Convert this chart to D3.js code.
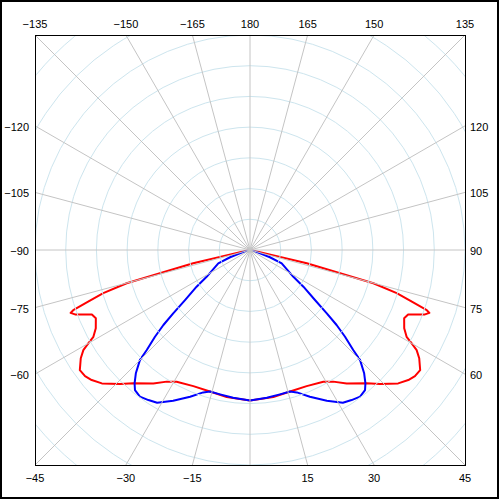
<!DOCTYPE html>
<html>
<head>
<meta charset="utf-8">
<script src="https://cdn.jsdelivr.net/npm/d3@7"></script>
<style>
  body { margin: 0; background: #fff; }
  text { font-family: "Liberation Sans", Arial, sans-serif; font-size: 11px; fill: #000; }
</style>
</head>
<body>
<div id="chart"></div>
<script>
// Gamma angles (deg from nadir) and intensities.
// The luminaire is symmetric, so each half plane uses the same table.
var redGamma = [0, 9.0, 15.8, 22.6, 29.1, 32.3, 35.9, 41.2, 44.1, 48.0, 50.6, 52.6, 54.8,
                57.4, 59.0, 60.0, 61.0, 63.1, 66.1, 67.8, 69.8, 70.7, 71.2, 72.2, 73.6,
                74.9, 75.5, 76.8, 77.6, 80, 85, 90];
var redValue = [490, 485, 479, 480, 491, 507, 537, 577, 608, 649, 667, 676, 678,
                654, 633, 608, 583, 563, 549, 556, 607, 619, 608, 558, 498,
                416, 303, 190, 40, 12, 4, 0];

var blueGamma = [0, 6.5, 11.7, 15.8, 18.2, 22.2, 27.0, 31.3, 34.1, 36.9, 39.4, 40.9,
                 42.8, 45.0, 45.9, 47.6, 49.1, 50.5, 52.4, 55.5, 58.3, 67.2, 70.0,
                 72.7, 80, 90];
var blueValue = [490, 484, 480, 479, 488, 516, 551, 582, 590, 597, 590, 574,
                 547, 507, 468, 419, 373, 324, 267, 211, 166, 112, 69,
                 26, 6, 0];

// Ring values and angle labels.
var ringValues = [100, 200, 300, 400, 500, 600, 700, 800, 900];
var spokeAngles = [-165, -150, -135, -120, -105, -90, -75, -60, -45, -30, -15, 0,
                   15, 30, 45, 60, 75, 90, 105, 120, 135, 150, 165, 180];

var width = 500,
    height = 500,
    cx = 250,
    cy = 250,
    half = 215;

var svg = d3.select("#chart").append("svg")
    .attr("width", width)
    .attr("height", height);

// outer frame
svg.append("rect")
    .attr("x", 1).attr("y", 1)
    .attr("width", 497).attr("height", 497)
    .attr("fill", "none")
    .attr("stroke", "#000")
    .attr("stroke-width", 2);

svg.append("clipPath").attr("id", "box")
  .append("rect")
    .attr("x", cx - half).attr("y", cy - half)
    .attr("width", 2 * half).attr("height", 2 * half);

var r = d3.scaleLinear().domain([0, 700]).range([0, half]);

var g = svg.append("g")
    .attr("transform", "translate(" + cx + "," + cy + ")");
var grid = svg.append("g")
    .attr("clip-path", "url(#box)")
  .append("g")
    .attr("transform", "translate(" + cx + "," + cy + ")");

// angle 0 points down, positive angles to the right
function rad(a) { return (180 - a) * Math.PI / 180; }

grid.selectAll("circle.ring")
  .data(ringValues)
  .enter().append("circle")
    .attr("class", "ring")
    .attr("r", function(d) { return r(d); })
    .attr("fill", "none")
    .attr("stroke", "#cde5ee")
    .attr("stroke-width", 1);

grid.selectAll("line.spoke")
  .data(spokeAngles)
  .enter().append("line")
    .attr("class", "spoke")
    .attr("x1", 0).attr("y1", 0)
    .attr("x2", function(d) { return 400 * Math.sin(rad(d)); })
    .attr("y2", function(d) { return -400 * Math.cos(rad(d)); })
    .attr("stroke", "#c4c4c4")
    .attr("stroke-width", 1);

// plot box
svg.append("rect")
    .attr("x", cx - half + 0.5).attr("y", cy - half + 0.5)
    .attr("width", 2 * half).attr("height", 2 * half)
    .attr("fill", "none")
    .attr("stroke", "#000")
    .attr("stroke-width", 1);

// Labels where the spokes meet the box.
spokeAngles.forEach(function(a) {
  if (a === 0) return;
  var s = Math.sin(a * Math.PI / 180), c = Math.cos(a * Math.PI / 180);
  var t = half / Math.max(Math.abs(s), Math.abs(c));
  var x = cx + t * s, y = cy + t * c;
  var label = a < 0 ? "\u2212" + (-a) : String(a);
  var txt = svg.append("text").text(label);
  if (Math.abs(c) >= Math.abs(s) - 1e-9) {
    txt.attr("x", x).attr("text-anchor", "middle")
       .attr("y", c > 0 ? y + 17 : y - 7);
  } else if (s < 0) {
    txt.attr("x", x - 6).attr("y", y + 5).attr("text-anchor", "end");
  } else {
    txt.attr("x", x + 5).attr("y", y + 5).attr("text-anchor", "start");
  }
});

// Full curve: C180 half (left, negative angles) then C0 half (right).
function fullCurve(gamma, value) {
  var pts = [];
  for (var i = gamma.length - 1; i >= 0; i--) pts.push([-gamma[i], value[i]]);
  for (var j = 1; j < gamma.length; j++) pts.push([gamma[j], value[j]]);
  return pts;
}

var radial = d3.lineRadial()
    .angle(function(d) { return rad(d[0]); })
    .radius(function(d) { return r(d[1]); })
    .curve(d3.curveLinear);

g.append("path")
    .datum(fullCurve(redGamma, redValue))
    .attr("d", radial)
    .attr("fill", "none")
    .attr("stroke", "#ff0000")
    .attr("stroke-width", 2)
    .attr("stroke-linejoin", "round");

g.append("path")
    .datum(fullCurve(blueGamma, blueValue))
    .attr("d", radial)
    .attr("fill", "none")
    .attr("stroke", "#0000ff")
    .attr("stroke-width", 2)
    .attr("stroke-linejoin", "round");
</script>
</body>
</html>
